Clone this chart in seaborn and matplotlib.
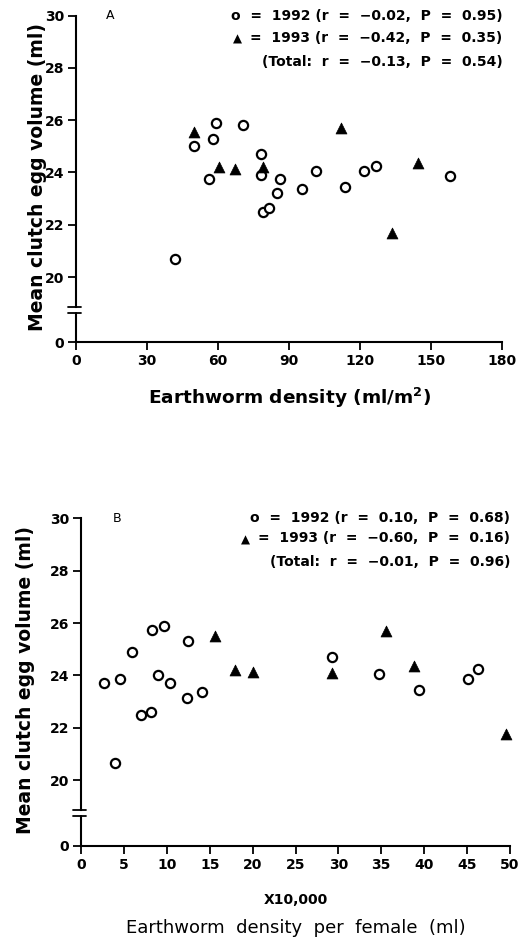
import numpy as np
import pandas as pd
import matplotlib
matplotlib.use("Agg")
import matplotlib.pyplot as plt
import matplotlib.transforms as mtransforms
import seaborn as sns

# ---------------- data ----------------
a92_x = [42, 50, 56, 58, 59, 70.5, 78, 78, 79, 81.5, 85, 86, 95.5, 101.5, 113.5, 121.5, 126.5, 158]
a92_y = [20.7, 25.0, 23.75, 25.3, 25.9, 25.8, 24.7, 23.9, 22.5, 22.65, 23.2, 23.75, 23.35, 24.05, 23.45, 24.05, 24.25, 23.85]
a93_x = [50, 60.5, 67, 79, 112, 133.5, 144.5]
a93_y = [25.55, 24.2, 24.15, 24.2, 25.7, 21.7, 24.35]

b92_x = [2.7, 4.0, 4.5, 5.9, 7.0, 8.2, 8.3, 9.0, 9.7, 10.4, 12.3, 12.5, 14.1, 29.3, 34.7, 39.4, 45.1, 46.3]
b92_y = [23.7, 20.65, 23.85, 24.9, 22.5, 22.6, 25.75, 24.0, 25.9, 23.7, 23.15, 25.3, 23.35, 24.7, 24.05, 23.45, 23.85, 24.25]
b93_x = [15.6, 18.0, 20.1, 29.3, 35.6, 38.8, 49.5]
b93_y = [25.5, 24.2, 24.15, 24.1, 25.7, 24.35, 21.75]

y_ticks = [20, 22, 24, 26, 28, 30]
y_tick_labels = ["20", "22", "24", "26", "28", "30"]
a_xticks = [0, 30, 60, 90, 120, 150, 180]
b_xticks = [0, 5, 10, 15, 20, 25, 30, 35, 40, 45, 50]

legend_a = ["o  =  1992 (r  =  \u22120.02,  P  =  0.95)",
            "=  1993 (r  =  \u22120.42,  P  =  0.35)",
            "(Total:  r  =  \u22120.13,  P  =  0.54)"]
legend_b = ["o  =  1992 (r  =  0.10,  P  =  0.68)",
            "=  1993 (r  =  \u22120.60,  P  =  0.16)",
            "(Total:  r  =  \u22120.01,  P  =  0.96)"]

ylabel = "Mean clutch egg volume (ml)"
xlabel_a = "Earthworm density (ml/m$^\\mathbf{2}$)"
xlabel_b = "Earthworm  density  per  female  (ml)"

Y_ZERO = 17.5   # position of the "0" tick on the broken axis

sns.set_theme(style="ticks")
plt.rcParams["font.family"] = ["DejaVu Sans"]
plt.rcParams["font.weight"] = "bold"
plt.rcParams["mathtext.default"] = "bf"
for k in ("text.color", "axes.labelcolor", "xtick.color", "ytick.color", "axes.edgecolor"):
    plt.rcParams[k] = "black"

fig = plt.figure(figsize=(5.21, 9.42), dpi=100)
axA = fig.add_axes([0.1459, 0.6366, 0.8182, 0.3467])
axB = fig.add_axes([0.1555, 0.1022, 0.8234, 0.3476])


def draw_panel(ax, x92, y92, x93, y93, xlim, xticks, letter, letter_x, leg, leg_y):
    d92 = pd.DataFrame({"x": x92, "y": y92})
    d93 = pd.DataFrame({"x": x93, "y": y93})
    sns.scatterplot(data=d92, x="x", y="y", ax=ax, marker="o", s=44,
                    facecolor="white", edgecolor="black", linewidth=1.6,
                    clip_on=False, zorder=3)
    sns.scatterplot(data=d93, x="x", y="y", ax=ax, marker="^", s=62,
                    color="black", edgecolor="black", linewidth=0.5,
                    clip_on=False, zorder=3)
    ax.set_xlim(*xlim)
    ax.set_ylim(Y_ZERO, 30)
    ax.set_xticks(xticks)
    ax.set_xticklabels([str(t) for t in xticks])
    ax.set_yticks([Y_ZERO] + y_ticks)
    ax.set_yticklabels(["0"] + y_tick_labels)
    ax.tick_params(axis="both", direction="out", length=5.5, width=1.3,
                   labelsize=10, pad=3, colors="black")
    for t in ax.get_xticklabels() + ax.get_yticklabels():
        t.set_fontweight("bold")
    sns.despine(ax=ax)
    for sp in ("left", "bottom"):
        ax.spines[sp].set_linewidth(1.5)
        ax.spines[sp].set_color("black")
    # broken axis
    b_lo, b_hi = 18.63, 18.86
    ax.spines["left"].set_bounds(b_hi, 30)
    trans = mtransforms.blended_transform_factory(ax.transAxes, ax.transData)
    ax.plot([0, 0], [Y_ZERO, b_lo], color="black", lw=1.5, transform=trans, clip_on=False)
    for yb in (b_lo, b_hi):
        ax.plot([-0.019, 0.012], [yb, yb], color="black", lw=1.3,
                transform=trans, clip_on=False)
    ax.set_xlabel("")
    ax.set_ylabel("")
    # panel letter
    ax.text(letter_x, 30, letter, fontsize=9, fontweight="normal",
            ha="left", va="center")
    # legend-like annotation
    txts = []
    for s, yy in zip(leg, leg_y):
        txts.append(ax.text(1.0, yy, s, transform=trans, ha="right", va="center",
                            fontsize=10, fontweight="bold"))
    ax.annotate("\u25b2", xy=(0, 0.42), xycoords=txts[1], xytext=(-6, 0),
                textcoords="offset points", ha="right", va="center", fontsize=8.5)


draw_panel(axA, a92_x, a92_y, a93_x, a93_y, (0, 180), a_xticks, "A", 12.7,
           legend_a, [30, 29.14, 28.24])
draw_panel(axB, b92_x, b92_y, b93_x, b93_y, (0, 50), b_xticks, "B", 3.7,
           legend_b, [30, 29.23, 28.34])

axA.set_ylabel(ylabel, fontsize=13.5, fontweight="bold", va="center")
axA.yaxis.set_label_coords(-0.0915, 0.505)
axA.set_xlabel(xlabel_a, fontsize=13.3, fontweight="bold", va="center")
axA.xaxis.set_label_coords(0.5, -0.17)

axB.set_ylabel(ylabel, fontsize=13.5, fontweight="bold", va="center")
axB.yaxis.set_label_coords(-0.130, 0.505)
axB.text(0.5, -0.166, "X10,000", transform=axB.transAxes, ha="center",
         va="center", fontsize=10, fontweight="bold")
axB.set_xlabel(xlabel_b, fontsize=13, fontweight="normal", va="center")
axB.xaxis.set_label_coords(0.5, -0.252)

fig.savefig("out.png", dpi=100, facecolor="white")
